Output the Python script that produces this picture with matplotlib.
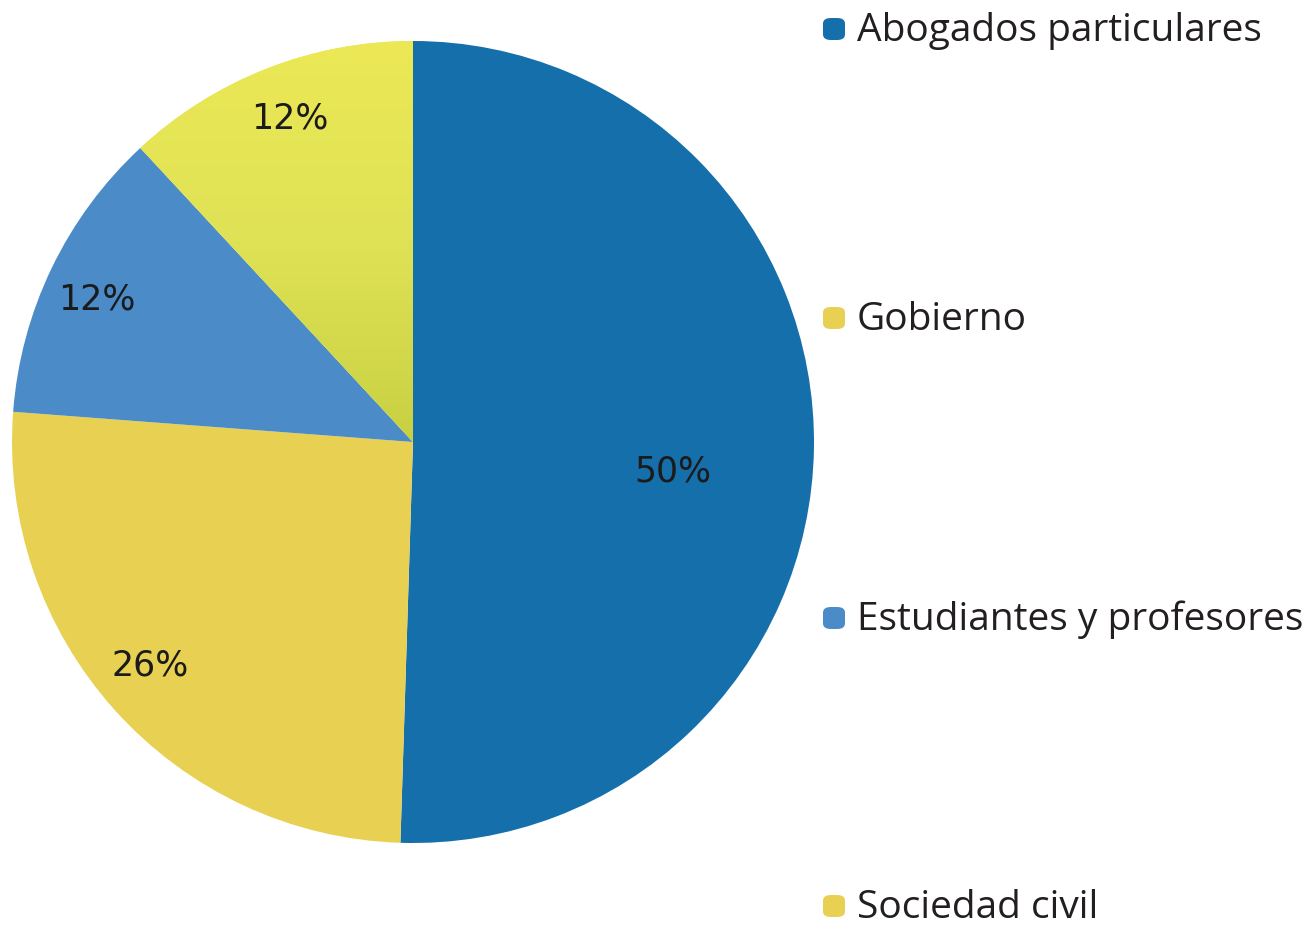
import matplotlib
matplotlib.use("Agg")
import matplotlib.pyplot as plt
import numpy as np
from matplotlib.colors import LinearSegmentedColormap
from matplotlib.patches import FancyBboxPatch

# data
categories = ["Abogados particulares", "Gobierno", "Estudiantes y profesores", "Sociedad civil"]
legend_colors = ["#156fab", "#e8d152", "#4a8bc8", "#e8d152"]
# wedges in drawing order (clockwise from top)
wedge_values = [50.5, 25.7, 11.9, 11.9]
wedge_labels = ["50%", "26%", "12%", "12%"]
wedge_colors = ["#156fab", "#e8d152", "#4a8bc8", "#e6e455"]

W, H = 1313, 928
fig = plt.figure(figsize=(W / 100, H / 100), dpi=100)
fig.patch.set_facecolor("white")

cx, cy, r = 413, 443, 401
ax = fig.add_axes([(cx - r) / W, (H - cy - r) / H, 2 * r / W, 2 * r / H])
ax.axis("off")

wedges, _ = ax.pie(wedge_values, colors=wedge_colors, startangle=90,
                   counterclock=False, radius=1, center=(0, 0),
                   wedgeprops=dict(linewidth=0))
ax.set_xlim(-1, 1)
ax.set_ylim(-1, 1)
ax.set_aspect("auto")

# vertical gradient on the last (yellow-green) slice
cmap = LinearSegmentedColormap.from_list("yg", ["#c8d142", "#dfe255", "#ece856"])
grad = np.linspace(0, 1, 256).reshape(-1, 1)
im = ax.imshow(grad, extent=(-1, 0, 0, 1), origin="lower", cmap=cmap,
               aspect="auto", zorder=2)
im.set_clip_path(wedges[3])

label_pos = [(0.648, -0.072), (-0.656, -0.554), (-0.788, 0.357), (-0.307, 0.81)]
for (x, y), t in zip(label_pos, wedge_labels):
    ax.text(x, y, t, ha="center", va="center", fontsize=25,
            color="#1b1b1b", zorder=3)

# legend on the right
leg_y = [30, 319, 619, 907]
for name, col, y in zip(categories, legend_colors, leg_y):
    box = FancyBboxPatch(((834 - 11) / W, (H - y - 11) / H), 22 / W, 22 / H,
                         boxstyle="round,pad=0,rounding_size=0.006",
                         transform=fig.transFigure, facecolor=col,
                         edgecolor="none")
    fig.patches.append(box)
    fig.text(857 / W, (H - y - 1) / H, name, ha="left", va="center",
             fontsize=28, color="#231f20", family="Open Sans")

fig.savefig("out.png", dpi=100)
